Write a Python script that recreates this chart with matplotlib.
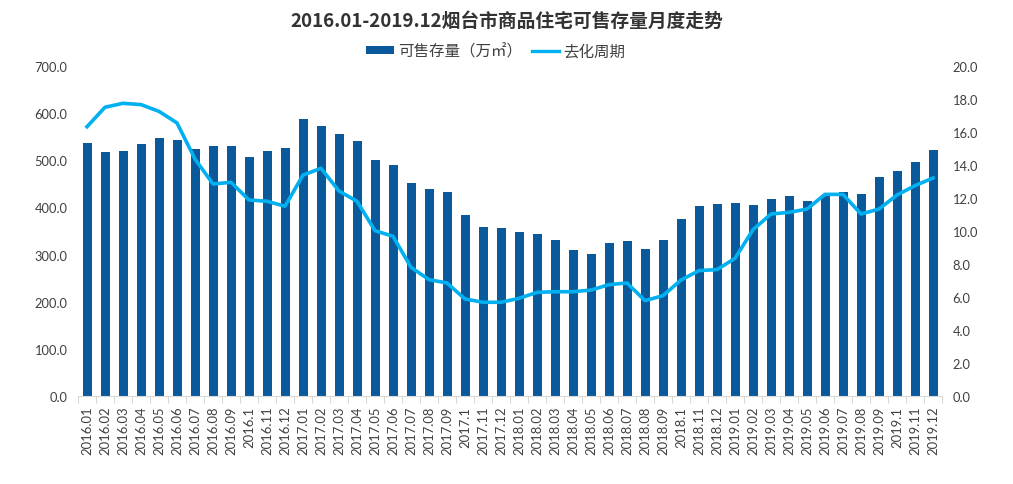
import matplotlib
matplotlib.use("Agg")
import matplotlib.pyplot as plt
import numpy as np
from matplotlib.lines import Line2D
from matplotlib.patches import Patch

plt.rcParams['font.family'] = ['Noto Sans CJK SC', 'DejaVu Sans']

months = ["2016.01","2016.02","2016.03","2016.04","2016.05","2016.06","2016.07","2016.08","2016.09","2016.1","2016.11","2016.12",
          "2017.01","2017.02","2017.03","2017.04","2017.05","2017.06","2017.07","2017.08","2017.09","2017.1","2017.11","2017.12",
          "2018.01","2018.02","2018.03","2018.04","2018.05","2018.06","2018.07","2018.08","2018.09","2018.1","2018.11","2018.12",
          "2019.01","2019.02","2019.03","2019.04","2019.05","2019.06","2019.07","2019.08","2019.09","2019.1","2019.11","2019.12"]

stock = [537, 518, 520, 535, 547, 543, 524, 530, 530, 507, 520, 526,
         588, 573, 556, 541, 501, 490, 452, 439, 433, 384, 358, 356,
         348, 344, 331, 310, 301, 325, 329, 312, 331, 375, 403, 407,
         409, 405, 418, 424, 414, 426, 433, 428, 465, 477, 497, 522]

cycle = [16.32, 17.50, 17.74, 17.66, 17.25, 16.55, 14.36, 12.85, 12.95, 11.88, 11.80, 11.50,
         13.39, 13.80, 12.42, 11.80, 10.02, 9.68, 7.80, 7.05, 6.85, 5.88, 5.68, 5.68,
         5.92, 6.28, 6.32, 6.32, 6.42, 6.75, 6.85, 5.78, 6.08, 7.03, 7.60, 7.66,
         8.34, 10.08, 11.03, 11.13, 11.33, 12.22, 12.22, 11.03, 11.33, 12.18, 12.75, 13.21]

bar_color = '#0a5a9b'
line_color = '#00b0f0'
text_color = '#404040'

fig = plt.figure(figsize=(10.13, 4.85), dpi=100)
ax = fig.add_axes([78/1013, 1-397/485, (942-78)/1013, (397-67)/485])
x = np.arange(len(months))
ax.bar(x, stock, width=0.5, color=bar_color, zorder=2)
ax.set_xlim(-0.5, len(months)-0.5)
ax.set_ylim(0, 700)
ax.set_yticks(np.arange(0, 701, 100))
ax.set_yticklabels([f"{v:.1f}" for v in np.arange(0, 701, 100)], family=['Lato', 'DejaVu Sans'])
ax.set_xticks(x)
ax.set_xticklabels(months, rotation=90, family=['Lato', 'DejaVu Sans'])
ax.set_xticks(np.arange(-0.5, len(months), 1), minor=True)
ax.tick_params(axis='x', which='major', length=0, labelsize=9.4, colors=text_color, pad=7)
ax.tick_params(axis='x', which='minor', length=5, color='#d9d9d9', width=0.8)
ax.tick_params(axis='y', length=0, labelsize=9.3, colors=text_color, pad=7.5)
for s in ['left', 'right', 'top']:
    ax.spines[s].set_visible(False)
ax.spines['bottom'].set_color('#d9d9d9')
ax.spines['bottom'].set_linewidth(0.8)

ax2 = ax.twinx()
ax2.plot(x, cycle, color=line_color, linewidth=2.6, zorder=3, solid_joinstyle='round')
ax2.set_ylim(0, 20)
ax2.set_yticks(np.arange(0, 20.1, 2))
ax2.set_yticklabels([f"{v:.1f}" for v in np.arange(0, 20.1, 2)], family=['Lato', 'DejaVu Sans'])
ax2.tick_params(axis='y', length=0, labelsize=9.3, colors=text_color, pad=7.5)
for s in ['left', 'right', 'top', 'bottom']:
    ax2.spines[s].set_visible(False)

fig.text(0.5, 1-21/485, "2016.01-2019.12烟台市商品住宅可售存量月度走势", ha='center', va='center',
         fontsize=13.5, fontweight='bold', color='#333333')

handles = [Patch(facecolor=bar_color, edgecolor='none'),
           Line2D([0], [0], color=line_color, linewidth=2.4)]
fig.legend(handles, ["可售存量（万㎡）", "去化周期"], loc='center', bbox_to_anchor=(496/1013, 1-52/485),
           ncol=2, frameon=False, fontsize=11.2, handlelength=1.75, handleheight=0.5, columnspacing=0.6,
           handletextpad=0.3, labelcolor=text_color, borderpad=0.2)

fig.savefig("out.png", dpi=100)
